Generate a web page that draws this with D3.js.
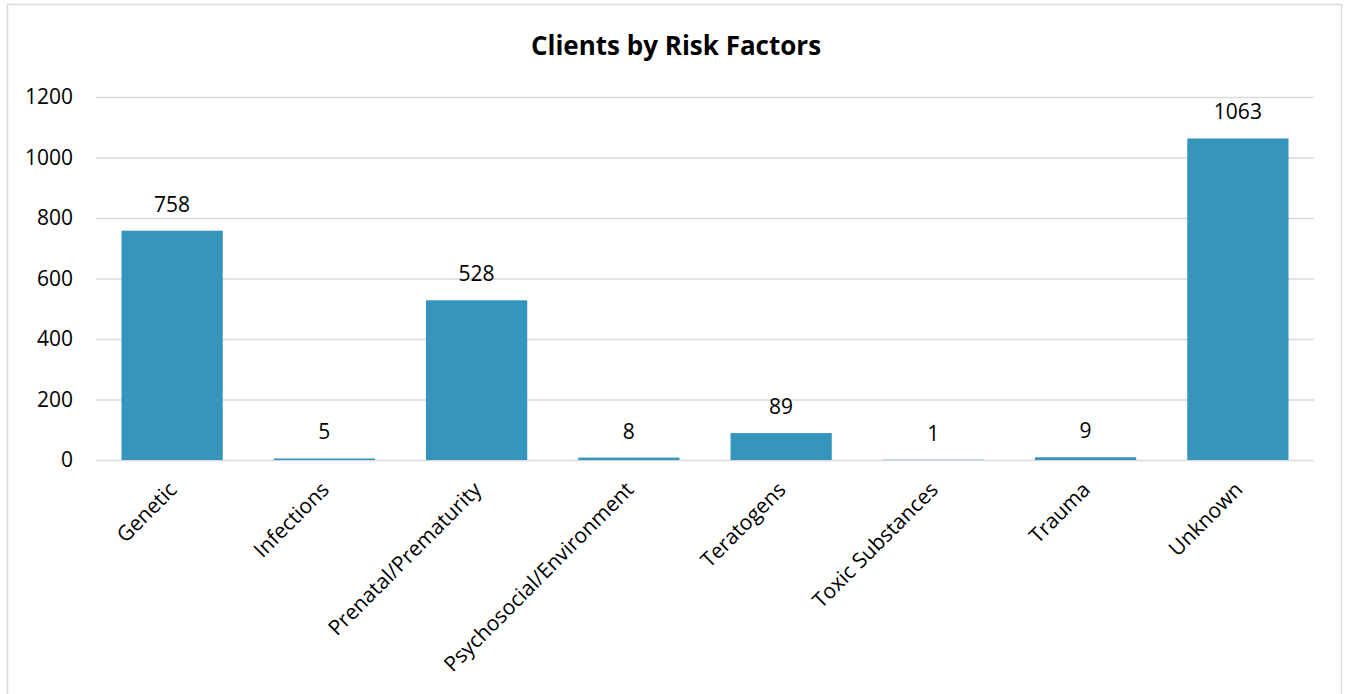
<!DOCTYPE html>
<html>
<head>
<meta charset="utf-8">
<script src="https://cdn.jsdelivr.net/npm/d3@7"></script>
<style>
  html, body { margin: 0; padding: 0; background: #fff; }
  svg { display: block; }
  text { font-family: "Open Sans", "Noto Sans", sans-serif; fill: #000; }
</style>
</head>
<body>
<script>
// Risk factor categories and client counts
const categories = ["Genetic", "Infections", "Prenatal/Prematurity", "Psychosocial/Environment",
                    "Teratogens", "Toxic Substances", "Trauma", "Unknown"];
const clients = [758, 5, 528, 8, 89, 1, 9, 1063];
const yTicks = [0, 200, 400, 600, 800, 1000, 1200];
const chartTitle = "Clients by Risk Factors";

const W = 1348, H = 694;
const plot = { left: 96, right: 1314, top: 97, bottom: 460 };
const labelSize = "21px";

const svg = d3.select("body").append("svg").attr("width", W).attr("height", H);

// Outer chart frame
svg.append("rect")
  .attr("x", 7.5).attr("y", 4.5)
  .attr("width", 1334).attr("height", 700)
  .attr("fill", "#fff").attr("stroke", "#d9d9d9").attr("stroke-width", 1.5);

const x = d3.scaleBand().domain(categories).range([plot.left, plot.right]).paddingInner(0.335).paddingOuter(0.1675);
const y = d3.scaleLinear().domain([0, 1200]).range([plot.bottom, plot.top]);

// Title
svg.append("text")
  .attr("x", 676).attr("y", 55)
  .attr("text-anchor", "middle")
  .style("font-size", "26px").style("font-weight", "bold")
  .text(chartTitle);

// Horizontal gridlines and value axis labels
const yAxis = d3.axisLeft(y).tickValues(yTicks).tickFormat(d3.format("d"))
  .tickSize(-(plot.right - plot.left)).tickPadding(23);
const gy = svg.append("g").attr("transform", `translate(${plot.left},0)`).call(yAxis);
gy.select(".domain").remove();
gy.selectAll(".tick line").attr("stroke", "#d9d9d9").attr("stroke-width", 1.5);
gy.selectAll(".tick text").style("font-size", labelSize).attr("fill", "#000");

// Bars
svg.append("g").selectAll("rect")
  .data(categories.map((c, i) => ({ c, v: clients[i] })))
  .join("rect")
  .attr("x", d => x(d.c))
  .attr("width", x.bandwidth())
  .attr("y", d => y(d.v))
  .attr("height", d => y(0) - y(d.v))
  .attr("fill", "#3595bc");

// Value labels above bars
svg.append("g").selectAll("text")
  .data(categories.map((c, i) => ({ c, v: clients[i] })))
  .join("text")
  .attr("x", d => x(d.c) + x.bandwidth() / 2)
  .attr("y", d => y(d.v) - 19)
  .attr("text-anchor", "middle")
  .style("font-size", labelSize)
  .text(d => d.v);

// Category axis with rotated labels
const xAxis = d3.axisBottom(x).tickSize(0).tickPadding(0);
const gx = svg.append("g").attr("transform", `translate(0,${plot.bottom})`).call(xAxis);
gx.select(".domain").remove();
gx.selectAll(".tick text")
  .style("font-size", labelSize).attr("fill", "#000")
  .attr("text-anchor", "end")
  .attr("dy", 0)
  .attr("transform", "translate(6,31) rotate(-45)");
</script>
</body>
</html>
